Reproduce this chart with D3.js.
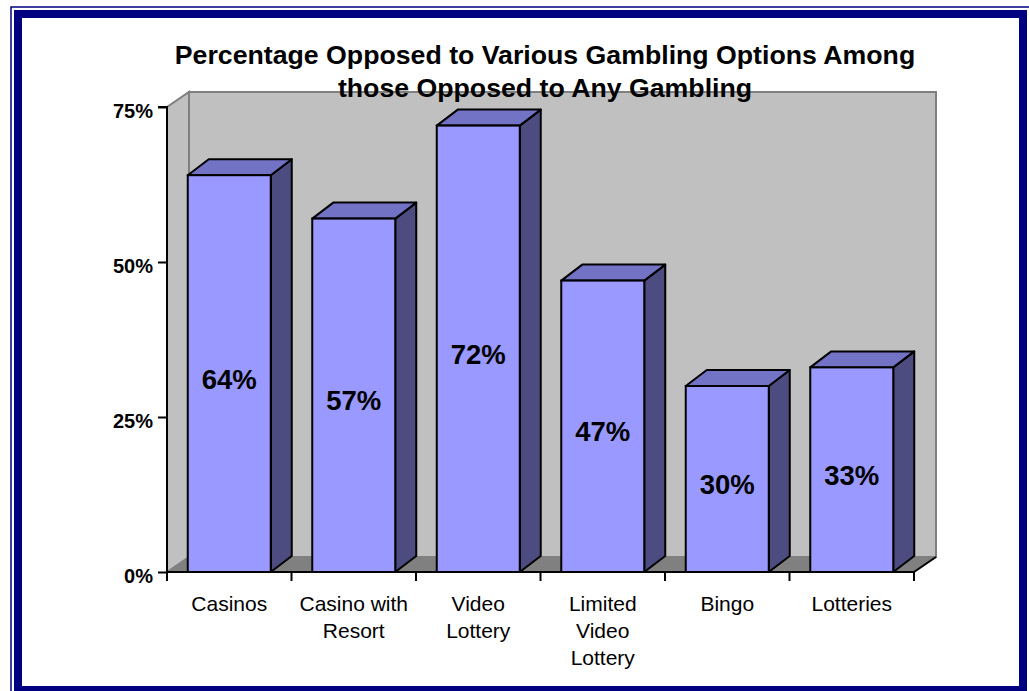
<!DOCTYPE html>
<html><head><meta charset="utf-8">
<script src="https://cdn.jsdelivr.net/npm/d3@7"></script>
<style>html,body{margin:0;padding:0;background:#fff;}svg{display:block;}</style>
</head><body>
<svg id="c" width="1029" height="691"></svg>
<script>
const categories = ["Casinos", "Casino with\nResort", "Video\nLottery", "Limited\nVideo\nLottery", "Bingo", "Lotteries"];
const values = [64, 57, 72, 47, 30, 33];
const yTicks = [0, 25, 50, 75];
const titleLines = ["Percentage Opposed to Various Gambling Options Among", "those Opposed to Any Gambling"];

const svg = d3.select("#c");
const F = "'Liberation Sans', Arial, sans-serif";
const dx = 22, dy = -15;
const x = d3.scaleBand().domain(categories).range([167, 914]).paddingInner(1/3).paddingOuter(1/6);
const y = d3.scaleLinear().domain([0, 75]).range([572, 107]);
const x0 = 167, x1 = 914, yb = y(0), yt = y(75);

// frame
svg.append("rect").attr("x", 11).attr("y", 7).attr("width", 1030).attr("height", 700)
  .attr("fill", "none").attr("stroke", "#000080").attr("stroke-width", 1.5);
svg.append("rect").attr("x", 18).attr("y", 14).attr("width", 1005).attr("height", 676)
  .attr("fill", "none").attr("stroke", "#000080").attr("stroke-width", 8);

// walls
const pts = a => a.map(p => p.join(",")).join(" ");
svg.append("polygon").attr("points", pts([[x0+dx, yb+dy],[x0+dx, yt+dy],[x1+dx, yt+dy],[x1+dx, yb+dy]]))
  .attr("fill", "#c0c0c0").attr("stroke", "#808080").attr("stroke-width", 2);
svg.append("polygon").attr("points", pts([[x0, yb],[x0, yt],[x0+dx, yt+dy],[x0+dx, yb+dy]]))
  .attr("fill", "#c0c0c0").attr("stroke", "#808080").attr("stroke-width", 2);
// floor
svg.append("polygon").attr("points", pts([[x0, yb],[x0+dx, yb+dy],[x1+dx, yb+dy],[x1, yb]]))
  .attr("fill", "#808080").attr("stroke", "#808080").attr("stroke-width", 1);
svg.append("line").attr("x1", x1).attr("y1", yb).attr("x2", x1+dx).attr("y2", yb+dy)
  .attr("stroke", "#000").attr("stroke-width", 2);

// bars
const w = x.bandwidth();
const bdx = 21, bdy = -16;
const g = svg.append("g");
categories.forEach((c, i) => {
  const bx = x(c), by = y(values[i]);
  g.append("polygon").attr("points", pts([[bx+w, yb],[bx+w, by],[bx+w+bdx, by+bdy],[bx+w+bdx, yb+bdy]]))
    .attr("fill", "#4c4c80").attr("stroke", "#000").attr("stroke-width", 2).attr("stroke-linejoin", "round");
  g.append("polygon").attr("points", pts([[bx, by],[bx+bdx, by+bdy],[bx+w+bdx, by+bdy],[bx+w, by]]))
    .attr("fill", "#7373c6").attr("stroke", "#000").attr("stroke-width", 2).attr("stroke-linejoin", "round");
  g.append("rect").attr("x", bx).attr("y", by).attr("width", w).attr("height", yb - by)
    .attr("fill", "#9999ff").attr("stroke", "#000").attr("stroke-width", 2);
  g.append("text").attr("x", bx + w/2).attr("y", (by + yb)/2 + 15)
    .attr("text-anchor", "middle").attr("font-family", F).attr("font-weight", "bold")
    .attr("font-size", 27.5).attr("fill", "#000").text(values[i] + "%");
});

// axes
const yAxis = d3.axisLeft(y).tickValues(yTicks).tickSize(9).tickPadding(5).tickFormat(d => d + "%");
const ya = svg.append("g").attr("transform", `translate(${x0},0)`).call(yAxis);
ya.select(".domain").attr("stroke", "#000").attr("stroke-width", 2).attr("d", `M-9,${yt}H0V${yb}`);
ya.selectAll(".tick line").attr("stroke", "#000").attr("stroke-width", 2);
ya.selectAll(".tick text").attr("font-family", F).attr("font-weight", "bold").attr("font-size", 20)
  .attr("fill", "#000").attr("dy", "0.5em");

svg.append("line").attr("x1", x0).attr("y1", yb).attr("x2", x1).attr("y2", yb)
  .attr("stroke", "#000").attr("stroke-width", 2);
const step = x.step();
d3.range(categories.length + 1).forEach(i => {
  const tx = x0 + i * step;
  svg.append("line").attr("x1", tx).attr("y1", yb).attr("x2", tx).attr("y2", yb + 9)
    .attr("stroke", "#000").attr("stroke-width", 2);
});

// category labels
categories.forEach(c => {
  const t = svg.append("text").attr("text-anchor", "middle").attr("font-family", F)
    .attr("font-size", 21).attr("fill", "#000");
  c.split("\n").forEach((ln, j) => {
    t.append("tspan").attr("x", x(c) + w/2).attr("y", 611 + j * 27).text(ln);
  });
});

// title
titleLines.forEach((ln, j) => {
  svg.append("text").attr("x", 545).attr("y", 64 + j * 33).attr("text-anchor", "middle")
    .attr("font-family", F).attr("font-weight", "bold").attr("font-size", 26.7).attr("fill", "#000").text(ln);
});
</script>
</body></html>
